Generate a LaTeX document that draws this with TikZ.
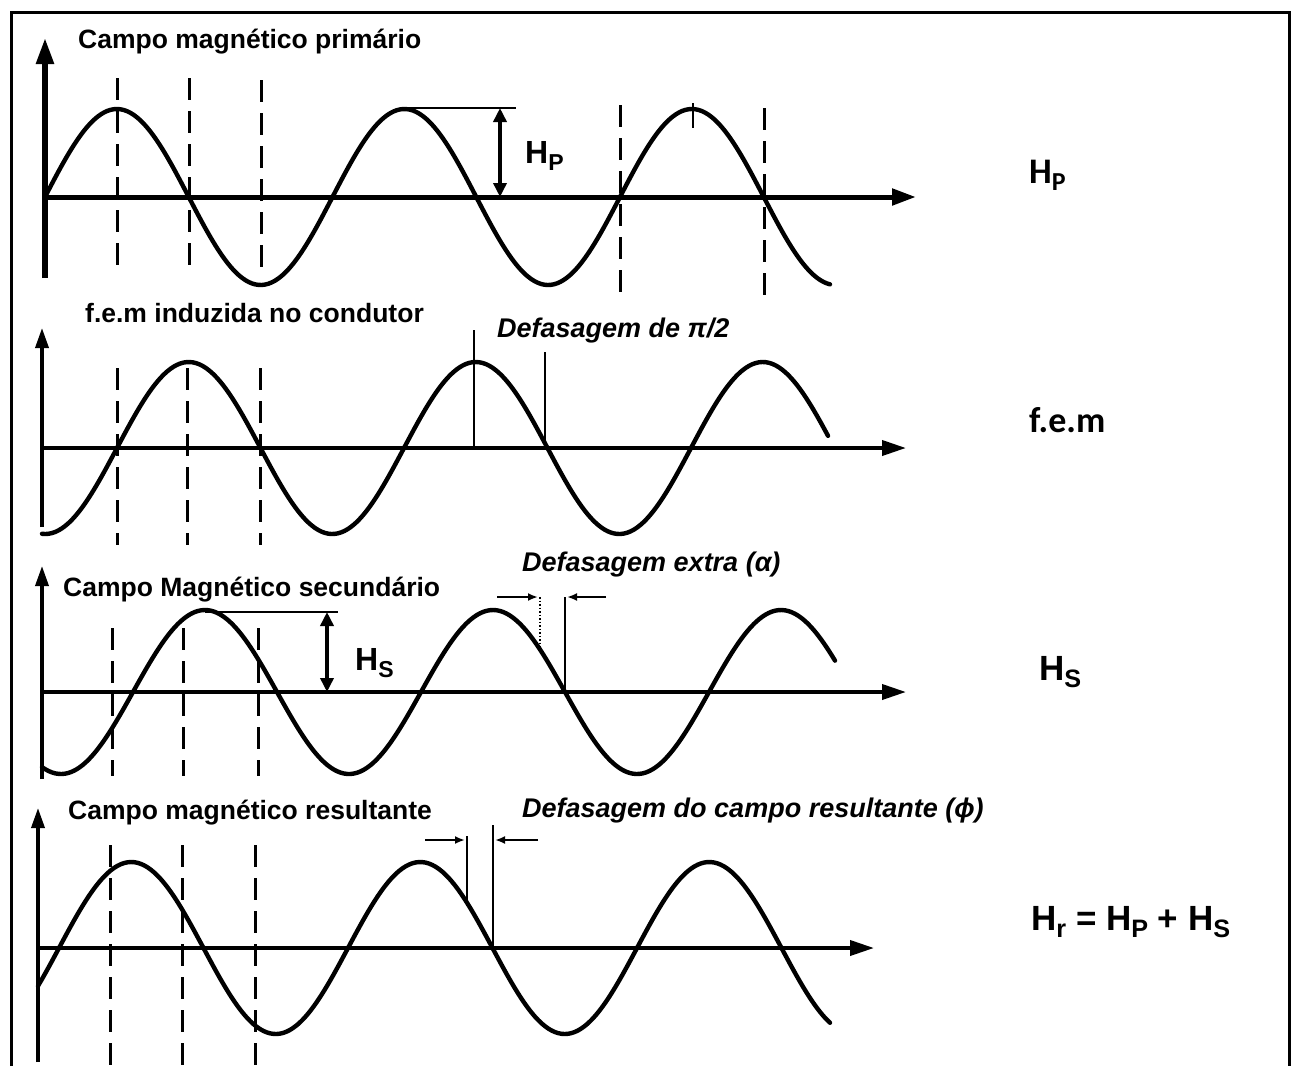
\documentclass[tikz,border=0pt]{standalone}
\usepackage{fontspec}
\usepackage{graphicx}
\setmainfont{Liberation Sans}
\newfontfamily\calib{Carlito}
\usetikzlibrary{arrows.meta}
\newcommand\sbs[1]{\raisebox{-0.22em}{\scalebox{0.72}{#1}}}
\newcommand\titlef{\fontsize{26.5}{30}\selectfont\bfseries}
\newcommand\itf{\fontsize{27}{30}\selectfont\bfseries\itshape}
\newcommand\hlab{\fontsize{32}{34}\selectfont\bfseries}
\newcommand\rlab{\fontsize{35}{38}\selectfont\bfseries}
\newcommand\clab{\fontsize{36}{38}\selectfont\calib\bfseries}
\tikzset{
  txt/.style={inner sep=0pt, anchor=base west},
  wave/.style={line width=4.4pt, line join=round, line cap=round},
  vax/.style={line width=3.5pt, -{Triangle[length=20pt,width=13pt]}},
  hax/.style={line width=3.8pt, -{Triangle[length=24pt,width=15pt]}},
  dashv/.style={line width=3pt, dash pattern=on 22pt off 11pt},
  thinv/.style={line width=2.6pt},
  dim/.style={line width=4pt, {Triangle[length=14pt,width=13pt]}-{Triangle[length=14pt,width=13pt]}},
  small/.style={line width=2pt, -{Latex[length=10pt,width=8pt]}},
  frame/.style={line width=3pt}
}
\begin{document}
\begin{tikzpicture}[x=1pt,y=-1pt]
\useasboundingbox (0,0) rectangle (1298,1066);
\fill[white] (0,0) rectangle (1298,1066);
% frame
\draw[frame] (11,1066) -- (11,12) -- (1289,12) -- (1289,1066);

% ---------- Panel 1: primary field ----------
\coordinate (a1o) at (45,278);
\coordinate (a1t) at (45,38);
\coordinate (a1x0) at (45,197);
\coordinate (a1x1) at (916,197);
\draw[line width=5.5pt, -{Triangle[length=26pt,width=17pt]}] (a1o) -- (a1t);
\draw[line width=5pt, -{Triangle[length=24pt,width=16pt]}] (a1x0) -- (a1x1);
\draw[wave, domain=45:830, samples=240, smooth] plot (\x, {197-88*sin(1.25217*(\x-45))});
\foreach \xx/\ya/\yb in {117/78/276, 189/78/276, 261/80/276, 620/105/300, 764/108/305}
  \draw[dashv] (\xx,\ya) -- (\xx,\yb);
\draw[line width=1.8pt] (400,108) -- (516,108);
\coordinate (hp1) at (500,108);
\coordinate (hp0) at (500,197);
\draw[dim] (hp1) -- (hp0);
\draw[line width=2.5pt] (693,103) -- (693,128);
\node[txt, font=\titlef] (t1) at (78,48) {Campo magnético primário};
\node[txt, font=\hlab] (hpl) at (525,163) {H\sbs{P}};
\node[txt, font=\clab] (rhp) at (1029,183) {H\sbs{P}};

% ---------- Panel 2: emf ----------
\draw[vax] (42,527) -- (42,328);
\draw[hax] (42,448) -- (906,448);
\draw[wave, domain=42:828, samples=240, smooth] plot (\x, {448-86*sin(1.25436*(\x-117))});
\foreach \xx in {117,187,260}
  \draw[dashv] (\xx,368) -- (\xx,545);
\draw[thinv] (474,330) -- (474,448);
\draw[thinv] (545,352) -- (545,448);
\node[txt, font=\titlef] (t2) at (85,322) {f.e.m induzida no condutor};
\node[txt, font=\itf] (d1) at (497,337) {Defasagem de π/2};
\node[txt, font=\clab] (rfem) at (1029,432) {f.e.m};

% ---------- Panel 3: secondary field ----------
\draw[vax] (42,779) -- (42,566);
\draw[hax] (42,692) -- (906,692);
\draw[wave, domain=42:835, samples=240, smooth] plot (\x, {692-82*sin(1.25*(\x-133))});
\foreach \xx in {112,183,258}
  \draw[dashv] (\xx,628) -- (\xx,776);
\draw[line width=1.5pt] (205,612) -- (338,612);
\draw[dim] (327,612) -- (327,692);
\draw[line width=1.5pt, dotted] (540,597) -- (540,650);
\draw[thinv] (565,597) -- (565,692);
\coordinate (al0) at (497,597);
\coordinate (al1) at (538,597);
\coordinate (ar0) at (606,597);
\coordinate (ar1) at (567,597);
\draw[small] (al0) -- (al1);
\draw[small] (ar0) -- (ar1);
\node[txt, font=\titlef] (t3) at (63,596) {Campo Magnético secundário};
\node[txt, font=\hlab] (hsl) at (355,670) {H\sbs{S}};
\node[txt, font=\itf] (d2) at (522,571) {Defasagem extra (α)};
\node[txt, font=\rlab] (rhs) at (1039,680) {H\sbs{S}};

% ---------- Panel 4: resultant field ----------
\draw[vax] (38,1062) -- (38,808);
\draw[hax] (38,948) -- (874,948);
\draw[wave, domain=38:830, samples=240, smooth] plot (\x, {948-86*sin(1.24567*(\x-59))});
\foreach \xx in {110,182,255}
  \draw[dashv] (\xx,845) -- (\xx,1066);
\draw[thinv] (467,836) -- (467,906);
\draw[thinv] (493,825) -- (493,948);
\coordinate (bl0) at (425,840);
\coordinate (bl1) at (465,840);
\coordinate (br0) at (538,840);
\coordinate (br1) at (495,840);
\draw[small] (bl0) -- (bl1);
\draw[small] (br0) -- (br1);
\node[txt, font=\titlef] (t4) at (68,819) {Campo magnético resultante};
\node[txt, font=\itf] (d3) at (522,817) {Defasagem do campo resultante (ϕ)};
\node[txt, font=\rlab] (rhr) at (1031,930) {H\sbs{r} = H\sbs{P} + H\sbs{S}};
\end{tikzpicture}
\end{document}
